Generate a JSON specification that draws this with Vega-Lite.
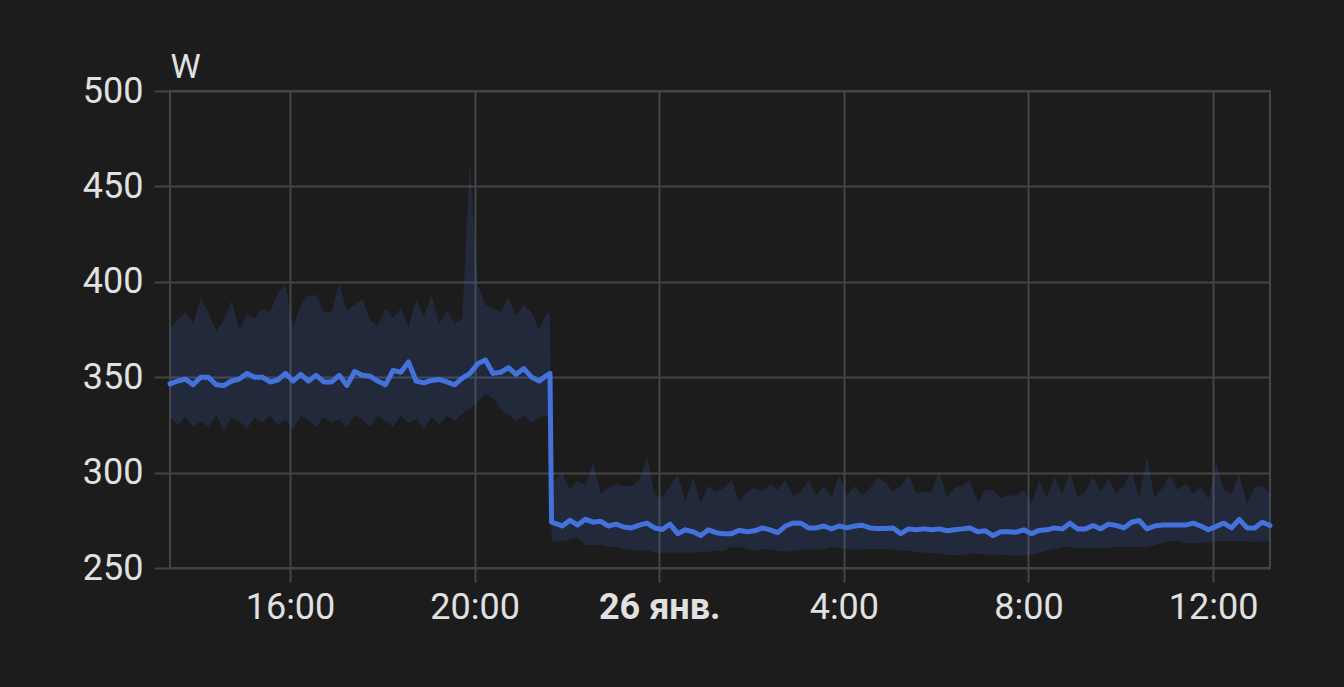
{
  "$schema": "https://vega.github.io/schema/vega-lite/v6.json",
  "width": 1100,
  "height": 477,
  "autosize": {"type": "none"},
  "padding": {"left": 170, "top": 91, "right": 74, "bottom": 119},
  "background": "#1c1c1c",
  "config": {
    "font": "Roboto",
    "view": {"stroke": "#444444", "strokeWidth": 2}
  },
  "data": {
    "values": [
      {"t": "2024-01-25T13:24", "v": 346.5, "lo": 329, "hi": 376},
      {"t": "2024-01-25T13:34", "v": 348, "lo": 325, "hi": 380},
      {"t": "2024-01-25T13:44", "v": 349, "lo": 329, "hi": 384},
      {"t": "2024-01-25T13:54", "v": 346, "lo": 324, "hi": 378},
      {"t": "2024-01-25T14:04", "v": 350, "lo": 327, "hi": 391},
      {"t": "2024-01-25T14:14", "v": 350, "lo": 324, "hi": 384},
      {"t": "2024-01-25T14:24", "v": 346, "lo": 330, "hi": 374},
      {"t": "2024-01-25T14:34", "v": 345.6, "lo": 322, "hi": 380},
      {"t": "2024-01-25T14:44", "v": 348, "lo": 329, "hi": 390},
      {"t": "2024-01-25T14:54", "v": 349, "lo": 327, "hi": 375},
      {"t": "2024-01-25T15:04", "v": 352, "lo": 323, "hi": 383},
      {"t": "2024-01-25T15:14", "v": 350, "lo": 329, "hi": 381},
      {"t": "2024-01-25T15:24", "v": 350, "lo": 326, "hi": 386},
      {"t": "2024-01-25T15:34", "v": 347.5, "lo": 330, "hi": 384},
      {"t": "2024-01-25T15:44", "v": 348.5, "lo": 325, "hi": 394},
      {"t": "2024-01-25T15:54", "v": 352, "lo": 328, "hi": 398},
      {"t": "2024-01-25T16:04", "v": 348, "lo": 323, "hi": 376},
      {"t": "2024-01-25T16:14", "v": 351.5, "lo": 330, "hi": 388},
      {"t": "2024-01-25T16:24", "v": 348, "lo": 327, "hi": 393},
      {"t": "2024-01-25T16:34", "v": 351, "lo": 324, "hi": 393},
      {"t": "2024-01-25T16:44", "v": 347.5, "lo": 329, "hi": 384},
      {"t": "2024-01-25T16:54", "v": 347.5, "lo": 326, "hi": 384},
      {"t": "2024-01-25T17:04", "v": 351, "lo": 328, "hi": 399},
      {"t": "2024-01-25T17:14", "v": 345.6, "lo": 324, "hi": 385},
      {"t": "2024-01-25T17:24", "v": 353, "lo": 330, "hi": 388},
      {"t": "2024-01-25T17:34", "v": 351, "lo": 328, "hi": 391},
      {"t": "2024-01-25T17:44", "v": 350.5, "lo": 324, "hi": 380},
      {"t": "2024-01-25T17:54", "v": 348, "lo": 330, "hi": 377},
      {"t": "2024-01-25T18:04", "v": 346, "lo": 327, "hi": 386},
      {"t": "2024-01-25T18:14", "v": 353.5, "lo": 324, "hi": 381},
      {"t": "2024-01-25T18:24", "v": 352.6, "lo": 330, "hi": 386},
      {"t": "2024-01-25T18:34", "v": 358, "lo": 326, "hi": 376},
      {"t": "2024-01-25T18:44", "v": 348, "lo": 328, "hi": 391},
      {"t": "2024-01-25T18:54", "v": 347, "lo": 323, "hi": 382},
      {"t": "2024-01-25T19:04", "v": 348.3, "lo": 329, "hi": 393},
      {"t": "2024-01-25T19:14", "v": 348.8, "lo": 325, "hi": 378},
      {"t": "2024-01-25T19:24", "v": 347.5, "lo": 330, "hi": 385},
      {"t": "2024-01-25T19:34", "v": 346, "lo": 327, "hi": 378},
      {"t": "2024-01-25T19:44", "v": 349.5, "lo": 331, "hi": 381},
      {"t": "2024-01-25T19:54", "v": 352, "lo": 334, "hi": 463},
      {"t": "2024-01-25T20:04", "v": 357, "lo": 337, "hi": 398},
      {"t": "2024-01-25T20:14", "v": 359, "lo": 341, "hi": 388},
      {"t": "2024-01-25T20:24", "v": 352, "lo": 339, "hi": 386},
      {"t": "2024-01-25T20:34", "v": 352.6, "lo": 333, "hi": 384},
      {"t": "2024-01-25T20:44", "v": 355, "lo": 330, "hi": 392},
      {"t": "2024-01-25T20:54", "v": 351.5, "lo": 327, "hi": 382},
      {"t": "2024-01-25T21:04", "v": 354.5, "lo": 330, "hi": 388},
      {"t": "2024-01-25T21:14", "v": 350, "lo": 326, "hi": 384},
      {"t": "2024-01-25T21:24", "v": 348, "lo": 329, "hi": 375},
      {"t": "2024-01-25T21:34", "v": 351, "lo": 330, "hi": 384},
      {"t": "2024-01-25T21:38", "v": 352, "lo": 330, "hi": 382},
      {"t": "2024-01-25T21:40", "v": 274, "lo": 265, "hi": 290},
      {"t": "2024-01-25T21:44", "v": 273.5, "lo": 264, "hi": 296},
      {"t": "2024-01-25T21:54", "v": 272, "lo": 264, "hi": 300},
      {"t": "2024-01-25T22:04", "v": 275, "lo": 265, "hi": 291},
      {"t": "2024-01-25T22:14", "v": 272.5, "lo": 266, "hi": 296},
      {"t": "2024-01-25T22:24", "v": 275.5, "lo": 262, "hi": 293},
      {"t": "2024-01-25T22:34", "v": 274, "lo": 262, "hi": 305},
      {"t": "2024-01-25T22:44", "v": 274.5, "lo": 262, "hi": 289},
      {"t": "2024-01-25T22:54", "v": 272, "lo": 261, "hi": 292},
      {"t": "2024-01-25T23:04", "v": 273, "lo": 261, "hi": 294},
      {"t": "2024-01-25T23:14", "v": 271.5, "lo": 260, "hi": 293},
      {"t": "2024-01-25T23:24", "v": 271, "lo": 259.5, "hi": 293},
      {"t": "2024-01-25T23:34", "v": 272.5, "lo": 259, "hi": 296},
      {"t": "2024-01-25T23:44", "v": 273.5, "lo": 259.5, "hi": 308},
      {"t": "2024-01-25T23:54", "v": 271, "lo": 258, "hi": 289},
      {"t": "2024-01-26T00:04", "v": 270.2, "lo": 258, "hi": 287},
      {"t": "2024-01-26T00:14", "v": 273, "lo": 258, "hi": 293},
      {"t": "2024-01-26T00:24", "v": 268, "lo": 258, "hi": 299},
      {"t": "2024-01-26T00:34", "v": 270, "lo": 258, "hi": 285},
      {"t": "2024-01-26T00:44", "v": 269, "lo": 258, "hi": 297},
      {"t": "2024-01-26T00:54", "v": 267, "lo": 258.5, "hi": 284},
      {"t": "2024-01-26T01:04", "v": 270, "lo": 258.5, "hi": 293},
      {"t": "2024-01-26T01:14", "v": 268.5, "lo": 259, "hi": 290},
      {"t": "2024-01-26T01:24", "v": 268, "lo": 259, "hi": 292},
      {"t": "2024-01-26T01:34", "v": 268, "lo": 261, "hi": 296},
      {"t": "2024-01-26T01:44", "v": 269.8, "lo": 261, "hi": 285},
      {"t": "2024-01-26T01:54", "v": 269, "lo": 260, "hi": 290},
      {"t": "2024-01-26T02:04", "v": 269.5, "lo": 259, "hi": 292},
      {"t": "2024-01-26T02:14", "v": 271, "lo": 260, "hi": 290},
      {"t": "2024-01-26T02:24", "v": 270, "lo": 259.5, "hi": 294},
      {"t": "2024-01-26T02:34", "v": 268.5, "lo": 259, "hi": 291},
      {"t": "2024-01-26T02:44", "v": 272, "lo": 258.5, "hi": 296},
      {"t": "2024-01-26T02:54", "v": 273.6, "lo": 259, "hi": 288},
      {"t": "2024-01-26T03:04", "v": 273.5, "lo": 259.5, "hi": 290},
      {"t": "2024-01-26T03:14", "v": 271, "lo": 259.5, "hi": 296},
      {"t": "2024-01-26T03:24", "v": 271, "lo": 259.5, "hi": 288},
      {"t": "2024-01-26T03:34", "v": 272, "lo": 260, "hi": 293},
      {"t": "2024-01-26T03:44", "v": 270.5, "lo": 261, "hi": 287},
      {"t": "2024-01-26T03:54", "v": 272, "lo": 260.5, "hi": 299},
      {"t": "2024-01-26T04:04", "v": 271, "lo": 260, "hi": 288},
      {"t": "2024-01-26T04:14", "v": 272, "lo": 259.5, "hi": 293},
      {"t": "2024-01-26T04:24", "v": 272.4, "lo": 259.5, "hi": 288},
      {"t": "2024-01-26T04:34", "v": 271, "lo": 260, "hi": 292},
      {"t": "2024-01-26T04:44", "v": 270.7, "lo": 260, "hi": 297},
      {"t": "2024-01-26T04:54", "v": 270.7, "lo": 260, "hi": 295},
      {"t": "2024-01-26T05:04", "v": 271, "lo": 259.5, "hi": 290},
      {"t": "2024-01-26T05:14", "v": 268, "lo": 259, "hi": 293},
      {"t": "2024-01-26T05:24", "v": 270.5, "lo": 259, "hi": 299},
      {"t": "2024-01-26T05:34", "v": 270, "lo": 258.5, "hi": 289},
      {"t": "2024-01-26T05:44", "v": 270.5, "lo": 258, "hi": 290},
      {"t": "2024-01-26T05:54", "v": 270, "lo": 258, "hi": 290},
      {"t": "2024-01-26T06:04", "v": 270.5, "lo": 257.5, "hi": 301},
      {"t": "2024-01-26T06:14", "v": 269.5, "lo": 257, "hi": 287},
      {"t": "2024-01-26T06:24", "v": 270, "lo": 256.5, "hi": 292},
      {"t": "2024-01-26T06:34", "v": 270.5, "lo": 257, "hi": 293},
      {"t": "2024-01-26T06:44", "v": 271, "lo": 257.5, "hi": 296},
      {"t": "2024-01-26T06:54", "v": 269, "lo": 257.5, "hi": 284},
      {"t": "2024-01-26T07:04", "v": 269.5, "lo": 257, "hi": 291},
      {"t": "2024-01-26T07:14", "v": 267, "lo": 257, "hi": 291},
      {"t": "2024-01-26T07:24", "v": 269, "lo": 257, "hi": 287},
      {"t": "2024-01-26T07:34", "v": 269, "lo": 256.5, "hi": 288},
      {"t": "2024-01-26T07:44", "v": 268.8, "lo": 256.5, "hi": 288},
      {"t": "2024-01-26T07:54", "v": 270, "lo": 256.5, "hi": 290.7},
      {"t": "2024-01-26T08:04", "v": 268, "lo": 257, "hi": 284},
      {"t": "2024-01-26T08:14", "v": 269.7, "lo": 258, "hi": 296},
      {"t": "2024-01-26T08:24", "v": 270, "lo": 259, "hi": 287},
      {"t": "2024-01-26T08:34", "v": 271, "lo": 260, "hi": 297.7},
      {"t": "2024-01-26T08:44", "v": 270.5, "lo": 261, "hi": 289},
      {"t": "2024-01-26T08:54", "v": 273.5, "lo": 261, "hi": 300.4},
      {"t": "2024-01-26T09:04", "v": 270.5, "lo": 260.5, "hi": 287},
      {"t": "2024-01-26T09:14", "v": 270.5, "lo": 260.5, "hi": 290},
      {"t": "2024-01-26T09:24", "v": 272.3, "lo": 260.5, "hi": 297.7},
      {"t": "2024-01-26T09:34", "v": 270.5, "lo": 260.5, "hi": 290},
      {"t": "2024-01-26T09:44", "v": 273, "lo": 260.5, "hi": 297},
      {"t": "2024-01-26T09:54", "v": 272.3, "lo": 261, "hi": 289},
      {"t": "2024-01-26T10:04", "v": 271, "lo": 261, "hi": 293},
      {"t": "2024-01-26T10:14", "v": 274, "lo": 261, "hi": 301},
      {"t": "2024-01-26T10:24", "v": 274.9, "lo": 261, "hi": 287},
      {"t": "2024-01-26T10:34", "v": 270.5, "lo": 261, "hi": 308},
      {"t": "2024-01-26T10:44", "v": 272, "lo": 262, "hi": 287},
      {"t": "2024-01-26T10:54", "v": 272.5, "lo": 263, "hi": 292},
      {"t": "2024-01-26T11:04", "v": 272.5, "lo": 264, "hi": 298.6},
      {"t": "2024-01-26T11:14", "v": 272.5, "lo": 264, "hi": 291},
      {"t": "2024-01-26T11:24", "v": 272.5, "lo": 263, "hi": 294},
      {"t": "2024-01-26T11:34", "v": 273.5, "lo": 263, "hi": 289},
      {"t": "2024-01-26T11:44", "v": 272, "lo": 263, "hi": 292},
      {"t": "2024-01-26T11:54", "v": 270, "lo": 263.5, "hi": 286},
      {"t": "2024-01-26T12:04", "v": 271.8, "lo": 264, "hi": 304.7},
      {"t": "2024-01-26T12:14", "v": 273.5, "lo": 264, "hi": 291},
      {"t": "2024-01-26T12:24", "v": 271, "lo": 264, "hi": 289},
      {"t": "2024-01-26T12:34", "v": 275.5, "lo": 264, "hi": 299.5},
      {"t": "2024-01-26T12:44", "v": 271, "lo": 264, "hi": 283.7},
      {"t": "2024-01-26T12:54", "v": 271, "lo": 263.5, "hi": 292},
      {"t": "2024-01-26T13:04", "v": 274, "lo": 264, "hi": 293},
      {"t": "2024-01-26T13:14", "v": 272.3, "lo": 264, "hi": 289}
    ]
  },
  "encoding": {
    "x": {
      "field": "t",
      "type": "temporal",
      "scale": {
        "domain": [
          {"year": 2024, "month": 1, "date": 25, "hours": 13, "minutes": 24},
          {"year": 2024, "month": 1, "date": 26, "hours": 13, "minutes": 14}
        ]
      },
      "axis": {
        "title": null,
        "values": [
          {"year": 2024, "month": 1, "date": 25, "hours": 16},
          {"year": 2024, "month": 1, "date": 25, "hours": 20},
          {"year": 2024, "month": 1, "date": 26, "hours": 0},
          {"year": 2024, "month": 1, "date": 26, "hours": 4},
          {"year": 2024, "month": 1, "date": 26, "hours": 8},
          {"year": 2024, "month": 1, "date": 26, "hours": 12}
        ],
        "format": "%-H:%M",
        "labelExpr": "hours(datum.value) === 0 ? '26 янв.' : datum.label",
        "labelFontWeight": {"condition": {"test": "hours(datum.value) === 0", "value": "bold"}, "value": "normal"},
        "labelFontSize": 36,
        "labelColor": "#e1e1e1",
        "labelPadding": 8,
        "domain": false,
        "grid": true,
        "gridColor": "#444444",
        "gridWidth": 2,
        "tickColor": "#444444",
        "tickWidth": 2,
        "tickSize": 14
      }
    }
  },
  "layer": [
    {
      "mark": {"type": "area", "color": "#4172db", "fillOpacity": 0.16},
      "encoding": {
        "y": {
          "field": "lo",
          "type": "quantitative",
          "scale": {"domain": [250, 500], "nice": false},
          "axis": {
            "title": "W",
            "titleAngle": 0,
            "titleAlign": "left",
            "titleBaseline": "alphabetic",
            "titleX": 0,
            "titleY": -14,
            "titleFontSize": 34,
            "titleFontWeight": "normal",
            "titleColor": "#e1e1e1",
            "values": [250, 300, 350, 400, 450, 500],
            "labelFontSize": 36,
            "labelColor": "#e1e1e1",
            "labelPadding": 11,
            "domain": false,
            "grid": true,
            "gridColor": "#444444",
            "gridWidth": 2,
            "tickColor": "#444444",
            "tickWidth": 2,
            "tickSize": 16
          }
        },
        "y2": {"field": "hi"}
      }
    },
    {
      "mark": {"type": "line", "color": "#4472dc", "strokeWidth": 5, "strokeJoin": "round", "strokeCap": "round"},
      "encoding": {
        "y": {"field": "v", "type": "quantitative"}
      }
    }
  ]
}
